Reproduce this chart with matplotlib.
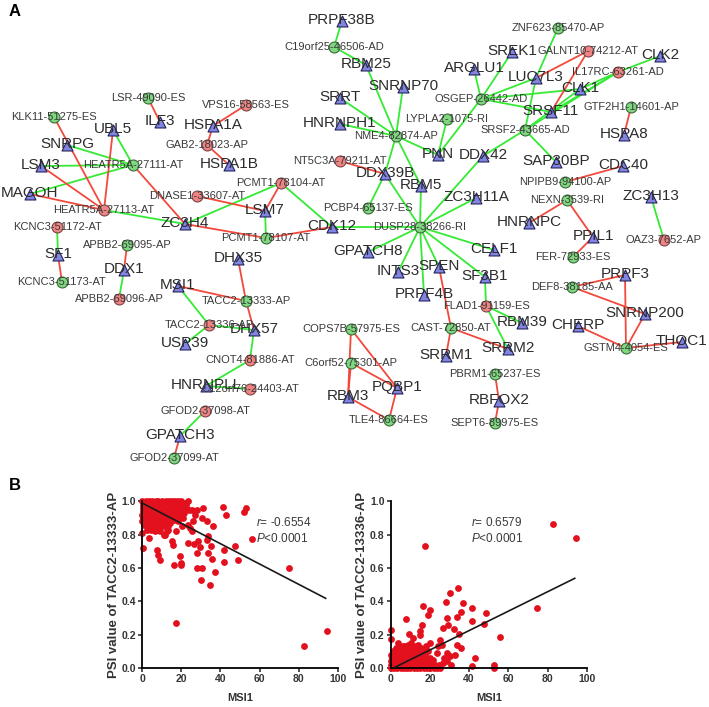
import matplotlib
matplotlib.use('Agg')
import matplotlib.pyplot as plt

plt.rcParams['font.family'] = ['Liberation Sans', 'DejaVu Sans']
plt.rcParams['mathtext.fontset'] = 'custom'
plt.rcParams['mathtext.it'] = 'Liberation Sans:italic'
plt.rcParams['mathtext.rm'] = 'Liberation Sans'

# genes (triangles), positions
genes = {
    'ILF3': (160, 122), 'UBL5': (113, 130), 'SNRPG': (67, 145), 'LSM3': (41, 166),
    'MAGOH': (30, 194), 'HSPA1A': (213, 126), 'HSPA1B': (229, 165), 'ZC3H4': (185, 224),
    'LSM7': (265, 211), 'SF1': (58, 255), 'DDX1': (124, 270), 'DHX35': (238, 259),
    'MSI1': (178, 286), 'DHX57': (254, 330), 'USP39': (185, 344), 'HNRNPLL': (206, 386),
    'GPATCH3': (180, 436), 'PRPF38B': (342, 21), 'RBM25': (366, 65), 'SNRNP70': (403, 87),
    'SRRT': (340, 98), 'HNRNPH1': (340, 124), 'DDX39B': (385, 174), 'PNN': (438, 155),
    'RBM5': (421, 186), 'ARGLU1': (474, 69), 'DDX42': (483, 156), 'ZC3H11A': (476, 198),
    'CDK12': (332, 227), 'SREK1': (512, 52), 'CLK2': (660, 56), 'LUC7L3': (536, 78),
    'CLK1': (580, 89), 'SRSF11': (551, 112), 'HSPA8': (624, 135), 'SAP30BP': (556, 162),
    'CDC40': (623, 166), 'ZC3H13': (651, 197), 'HNRNPC': (529, 223), 'PPIL1': (593, 237),
    'PRPF3': (625, 275), 'SNRNP200': (645, 314), 'CHERP': (578, 326), 'THOC1': (682, 342),
    'CELF1': (494, 250), 'SF3B1': (485, 277), 'RBM39': (522, 323), 'SRRM2': (508, 349),
    'RBFOX2': (499, 401), 'GPATCH8': (368, 252), 'INTS3': (398, 272), 'SPEN': (439, 267),
    'PRPF4B': (424, 295), 'SRRM1': (446, 356), 'PQBP1': (397, 388), 'RBM3': (348, 397),
}

# splicing events (circles), positive / negative correlation
events_green = {
    'LSR-49090-ES': (148, 98), 'KLK11-51275-ES': (54, 117), 'HEATR5A-27111-AT': (133, 165),
    'PCMT1-78107-AT': (266, 238), 'KCNC3-51173-AT': (62, 282), 'APBB2-69095-AP': (127, 245),
    'TACC2-13333-AP': (246, 301), 'GFOD2-37099-AT': (174, 458), 'C19orf25-46506-AD': (334, 47),
    'NME4-82874-AP': (396, 136), 'LYPLA2-1075-RI': (447, 119), 'OSGEP-26442-AD': (481, 99),
    'PCBP4-65137-ES': (368, 208), 'DUSP28-38266-RI': (420, 227), 'ZNF623-85470-AP': (558, 28),
    'GTF2H1-14601-AP': (631, 107), 'SRSF2-43665-AD': (525, 130), 'NPIPB9-94100-AP': (565, 182),
    'NEXN-3539-RI': (567, 200), 'FER-72933-ES': (573, 257), 'DEF8-38185-AA': (572, 287),
    'GSTM4-4054-ES': (626, 348), 'PBRM1-65237-ES': (495, 374), 'SEPT6-89975-ES': (495, 423),
    'COPS7B-57975-ES': (351, 329), 'CAST-72850-AT': (451, 328), 'C6orf52-75301-AP': (351, 363),
    'TLE4-86664-ES': (389, 420),
}
events_red = {
    'VPS16-58563-ES': (246, 105), 'GAB2-18023-AP': (207, 145), 'DNASE1-33607-AT': (197, 196),
    'HEATR5A-27113-AT': (104, 210), 'KCNC3-51172-AT': (57, 227), 'PCMT1-78104-AT': (281, 183),
    'APBB2-69096-AP': (119, 299), 'TACC2-13336-AP': (209, 325), 'CNOT4-81886-AT': (250, 360),
    'C12orf76-24403-AT': (250, 389), 'GFOD2-37098-AT': (205, 411), 'NT5C3A-79211-AT': (340, 161),
    'GALNT10-74212-AT': (588, 51), 'IL17RC-63261-AD': (618, 72), 'OAZ3-7652-AP': (664, 240),
    'FLAD1-91159-ES': (486, 306),
}

edges_green = [
    ('HEATR5A-27111-AT', 'UBL5'), ('HEATR5A-27111-AT', 'SNRPG'), ('HEATR5A-27111-AT', 'LSM3'),
    ('HEATR5A-27111-AT', 'MAGOH'), ('HEATR5A-27113-AT', 'ZC3H4'), ('PCMT1-78104-AT', 'ZC3H4'),
    ('PCMT1-78104-AT', 'CDK12'), ('PCMT1-78107-AT', 'LSM7'), ('KCNC3-51172-AT', 'SF1'),
    ('APBB2-69096-AP', 'DDX1'), ('TACC2-13336-AP', 'MSI1'), ('TACC2-13336-AP', 'USP39'),
    ('TACC2-13336-AP', 'DHX57'), ('CNOT4-81886-AT', 'DHX57'), ('CNOT4-81886-AT', 'HNRNPLL'),
    ('C12orf76-24403-AT', 'HNRNPLL'), ('GFOD2-37098-AT', 'GPATCH3'),
    ('C19orf25-46506-AD', 'PRPF38B'), ('C19orf25-46506-AD', 'RBM25'),
    ('NME4-82874-AP', 'RBM25'), ('NME4-82874-AP', 'SNRNP70'), ('NME4-82874-AP', 'SRRT'),
    ('NME4-82874-AP', 'HNRNPH1'), ('NME4-82874-AP', 'DDX39B'), ('NME4-82874-AP', 'RBM5'),
    ('NME4-82874-AP', 'PNN'), ('PCBP4-65137-ES', 'DDX39B'), ('DUSP28-38266-RI', 'CDK12'),
    ('DUSP28-38266-RI', 'DDX39B'), ('DUSP28-38266-RI', 'RBM5'), ('DUSP28-38266-RI', 'ZC3H11A'),
    ('DUSP28-38266-RI', 'DDX42'), ('DUSP28-38266-RI', 'GPATCH8'), ('DUSP28-38266-RI', 'INTS3'),
    ('DUSP28-38266-RI', 'PRPF4B'), ('DUSP28-38266-RI', 'SPEN'), ('DUSP28-38266-RI', 'SF3B1'),
    ('DUSP28-38266-RI', 'CELF1'), ('LYPLA2-1075-RI', 'PNN'), ('OSGEP-26442-AD', 'ARGLU1'),
    ('OSGEP-26442-AD', 'PNN'), ('OSGEP-26442-AD', 'SREK1'), ('OSGEP-26442-AD', 'LUC7L3'),
    ('OSGEP-26442-AD', 'CLK1'), ('OSGEP-26442-AD', 'SRSF11'), ('SRSF2-43665-AD', 'LUC7L3'),
    ('SRSF2-43665-AD', 'DDX42'), ('SRSF2-43665-AD', 'SAP30BP'), ('SRSF2-43665-AD', 'CLK1'),
    ('SRSF2-43665-AD', 'IL17RC-63261-AD'), ('IL17RC-63261-AD', 'CLK1'), ('IL17RC-63261-AD', 'CLK2'),
    ('IL17RC-63261-AD', 'SRSF11'), ('ZNF623-85470-AP', 'LUC7L3'), ('OAZ3-7652-AP', 'ZC3H13'),
    ('FLAD1-91159-ES', 'SF3B1'), ('FLAD1-91159-ES', 'RBM39'), ('FLAD1-91159-ES', 'SRRM2'),
]
edges_red = [
    ('HEATR5A-27111-AT', 'ZC3H4'), ('HEATR5A-27113-AT', 'KLK11-51275-ES'), ('HEATR5A-27113-AT', 'UBL5'),
    ('HEATR5A-27113-AT', 'LSM3'), ('HEATR5A-27113-AT', 'MAGOH'),
    ('LSR-49090-ES', 'ILF3'), ('VPS16-58563-ES', 'HSPA1A'), ('GAB2-18023-AP', 'HSPA1A'),
    ('GAB2-18023-AP', 'HSPA1B'), ('DNASE1-33607-AT', 'LSM7'), ('PCMT1-78104-AT', 'LSM7'),
    ('PCMT1-78107-AT', 'ZC3H4'), ('PCMT1-78107-AT', 'CDK12'), ('KCNC3-51173-AT', 'SF1'),
    ('APBB2-69095-AP', 'DDX1'), ('TACC2-13333-AP', 'DHX35'), ('TACC2-13333-AP', 'MSI1'),
    ('TACC2-13333-AP', 'DHX57'), ('GFOD2-37099-AT', 'GPATCH3'), ('NT5C3A-79211-AT', 'DDX39B'),
    ('GALNT10-74212-AT', 'LUC7L3'), ('GALNT10-74212-AT', 'SRSF11'), ('GTF2H1-14601-AP', 'HSPA8'),
    ('NPIPB9-94100-AP', 'CDC40'), ('NEXN-3539-RI', 'HNRNPC'), ('NEXN-3539-RI', 'PPIL1'),
    ('FER-72933-ES', 'PPIL1'), ('DEF8-38185-AA', 'PRPF3'), ('DEF8-38185-AA', 'SNRNP200'),
    ('GSTM4-4054-ES', 'PRPF3'), ('GSTM4-4054-ES', 'SNRNP200'), ('GSTM4-4054-ES', 'CHERP'),
    ('GSTM4-4054-ES', 'THOC1'), ('CAST-72850-AT', 'SPEN'), ('CAST-72850-AT', 'SRRM1'),
    ('CAST-72850-AT', 'SRRM2'), ('COPS7B-57975-ES', 'RBM3'), ('COPS7B-57975-ES', 'PQBP1'),
    ('C6orf52-75301-AP', 'RBM3'), ('C6orf52-75301-AP', 'PQBP1'), ('TLE4-86664-ES', 'RBM3'),
    ('TLE4-86664-ES', 'PQBP1'), ('PBRM1-65237-ES', 'RBFOX2'), ('SEPT6-89975-ES', 'RBFOX2'),
]

# scatter data, left panel
msi1_left = [0, 0.3, 3.6, 7.7, 8, 9.4, 17.3, 16.5, 19.4, 19.9, 19.9, 23.6, 26.5, 28.7, 28.2, 28.2,
             30.4, 30, 34.7, 37, 35.9, 33.8, 35.2, 33, 33.8, 29.6, 41.7, 41.7, 47.4, 48.8, 56, 74.8,
             82.8, 94.4, 41.2, 42.9, 52.2, 52.9, 31, 28.2, 25.3, 23.3, 30.6, 33.3, 36, 26.2, 23.6,
             25.3, 24.5, 27, 15.1, 16, 13.4, 11.7, 9.2, 17.3, 20.2,
             0.2, 1.8, 3.5, 5.1, 6.9, 8.4, 10.2, 12, 13.6, 15.3, 17, 18.6, 20.1, 21.8,
             0.5, 2.2, 4.1, 5.8, 7.5, 9.3, 11, 12.7, 14.4, 16.2, 17.8, 19.5, 21.2, 22.7,
             0.3, 2, 3.7, 5.4, 7.2, 8.9, 10.6, 12.4, 14.1, 15.8, 17.5, 19.2, 20.8, 22.3, 23.9,
             0.6, 2.4, 4.3, 6, 7.8, 9.6, 11.3, 13, 14.8, 16.5, 18.2, 19.9, 21.5,
             0.1, 1.9, 3.6, 5.5, 7.1, 8.8, 10.5, 12.3, 14, 15.7, 17.4, 19.1, 20.7,
             0.4, 2.3, 4, 5.9, 7.6, 9.5, 11.2, 13, 14.6, 16.4, 18.3,
             0.2, 2.1, 3.9, 5.6, 7.4, 9.1, 10.8, 12.6, 14.5,
             1.2, 3, 4.7, 6.5, 8.2, 10, 11.8, 13.5, 2.5, 4.8, 6.4, 8.7, 11.1, 12.9]
psi_left = [0.81, 0.72, 0.78, 0.71, 0.68, 0.65, 0.27, 0.62, 0.67, 0.63, 0.615, 0.75, 0.745, 0.76, 0.69, 0.60,
            0.60, 0.525, 0.50, 0.575, 0.655, 0.69, 0.73, 0.77, 0.79, 0.725, 0.635, 0.705, 0.73, 0.645, 0.775, 0.60,
            0.13, 0.22, 0.965, 0.92, 0.935, 0.96, 0.96, 0.945, 0.95, 1.0, 0.90, 0.88, 0.85, 0.88, 0.86,
            0.82, 0.84, 0.92, 0.76, 0.74, 0.83, 0.80, 0.82, 0.82, 0.85,
            1.0, 1.0, 1.0, 1.0, 1.0, 1.0, 1.0, 1.0, 1.0, 1.0, 1.0, 1.0, 1.0, 0.99,
            0.98, 0.98, 0.98, 0.98, 0.98, 0.98, 0.98, 0.98, 0.98, 0.98, 0.98, 0.98, 0.98, 0.98,
            0.96, 0.96, 0.96, 0.96, 0.96, 0.96, 0.96, 0.96, 0.96, 0.96, 0.96, 0.96, 0.96, 0.96, 0.95,
            0.94, 0.94, 0.94, 0.94, 0.94, 0.94, 0.94, 0.94, 0.94, 0.94, 0.94, 0.93, 0.93,
            0.92, 0.92, 0.92, 0.92, 0.92, 0.92, 0.92, 0.92, 0.92, 0.92, 0.91, 0.91, 0.90,
            0.90, 0.90, 0.90, 0.90, 0.90, 0.90, 0.90, 0.89, 0.89, 0.89, 0.88,
            0.88, 0.88, 0.88, 0.88, 0.88, 0.87, 0.87, 0.87, 0.87,
            0.86, 0.86, 0.86, 0.85, 0.85, 0.85, 0.85, 0.85, 0.83, 0.83, 0.82, 0.84, 0.80, 0.82]

# scatter data, right panel
msi1_right = [0.2, 0, 8, 9.4, 11.6, 15, 15, 16, 16.5, 17.5, 20, 19.2, 20, 26.5, 29.4, 28.2, 28.6, 30.3,
              34.5, 36.9, 35.7, 33.7, 32.5, 35, 41.7, 41.5, 48.8, 47.4, 56, 74.7, 83, 94.4, 42.9, 41.3,
              52.9, 52.5, 35.7, 33.7, 32.8, 30, 31, 28.6, 25, 26, 24.3, 23.5,
              0.1, 1.6, 3.3, 5, 6.8, 8.5, 10.1, 11.9, 13.5, 15.2, 17, 18.7, 20.3, 22, 23.8, 25.4,
              0.4, 2.2, 3.9, 5.7, 7.4, 9.1, 10.8, 12.5, 14.2, 16, 17.7, 19.4, 21.1, 22.8, 24.6,
              0.2, 1.9, 3.6, 5.3, 7.1, 8.8, 10.5, 12.2, 13.9, 15.6, 17.3, 19, 20.7, 26.8,
              0.6, 2.4, 4.2, 6, 7.7, 9.4, 11.2, 12.9, 14.6, 16.3, 18, 19.8, 21.6,
              0.3, 2, 3.8, 5.5, 7.3, 9, 10.7, 12.4, 14.1, 15.9, 17.6, 27.4, 28.8,
              1.2, 3, 4.8, 6.6, 8.2, 10, 11.7, 13.4, 15.1, 17, 18.8,
              2.6, 4.5, 6.2, 8.9, 11, 13, 15.4, 17.8, 3.7, 7, 10.3, 14]
psi_right = [0.23, 0.175, 0.295, 0.205, 0.18, 0.2, 0.22, 0.255, 0.37, 0.73, 0.35, 0.315, 0.15, 0.24, 0.26, 0.395, 0.30, 0.45,
             0.48, 0.39, 0.335, 0.305, 0.235, 0.205, 0.36, 0.28, 0.33, 0.265, 0.185, 0.36, 0.865, 0.78, 0.06, 0.01,
             0.02, 0, 0.12, 0.14, 0.08, 0.07, 0.02, 0.04, 0.17, 0.14, 0.13, 0.09,
             0, 0, 0, 0, 0, 0, 0, 0, 0, 0, 0, 0, 0, 0, 0, 0,
             0.02, 0.02, 0.02, 0.02, 0.02, 0.02, 0.02, 0.02, 0.02, 0.02, 0.02, 0.02, 0.02, 0.02, 0.02,
             0.04, 0.04, 0.04, 0.04, 0.04, 0.04, 0.04, 0.04, 0.04, 0.04, 0.04, 0.04, 0.04, 0.03,
             0.06, 0.06, 0.06, 0.06, 0.06, 0.06, 0.06, 0.06, 0.06, 0.06, 0.06, 0.06, 0.05,
             0.08, 0.08, 0.08, 0.08, 0.08, 0.08, 0.08, 0.08, 0.08, 0.08, 0.08, 0.06, 0.09,
             0.10, 0.10, 0.10, 0.10, 0.10, 0.10, 0.10, 0.10, 0.10, 0.10, 0.10,
             0.12, 0.12, 0.13, 0.14, 0.12, 0.13, 0.12, 0.13, 0.15, 0.13, 0.15, 0.14]

fit_left_x, fit_left_y = [0, 93.7], [0.99, 0.418]
fit_right_x, fit_right_y = [1.4, 93.9], [0, 0.538]
ticks_x = [0, 20, 40, 60, 80, 100]
ticks_y = [0.0, 0.2, 0.4, 0.6, 0.8, 1.0]

GREEN_LINE = '#35ea35'
RED_LINE = '#f2493c'
TEXT = '#3a3a3a'

fig = plt.figure(figsize=(7.09, 7.07), dpi=100)
net = fig.add_axes([0, 0, 1, 1])
net.set_xlim(0, 709)
net.set_ylim(707, 0)
net.axis('off')

# network
pos = {**genes, **events_green, **events_red}
for a, b in edges_green:
    net.plot([pos[a][0], pos[b][0]], [pos[a][1], pos[b][1]], color=GREEN_LINE, lw=1.3, zorder=1)
for a, b in edges_red:
    net.plot([pos[a][0], pos[b][0]], [pos[a][1], pos[b][1]], color=RED_LINE, lw=1.3, zorder=1)

net.scatter([p[0] for p in genes.values()], [p[1] for p in genes.values()], marker='^', s=62,
            color='#8184e0', edgecolor='#23235a', linewidth=0.8, zorder=2)
net.scatter([p[0] for p in events_green.values()], [p[1] for p in events_green.values()], s=62,
            color='#7fd87f', edgecolor='#3a6a3a', linewidth=0.8, zorder=2)
net.scatter([p[0] for p in events_red.values()], [p[1] for p in events_red.values()], s=62,
            color='#ee8484', edgecolor='#7d4545', linewidth=0.8, zorder=2)

for name, p in genes.items():
    net.text(p[0], p[1] - 1, name, fontsize=11, color='#2c2c2c', ha='center', va='center', zorder=3)
for name, p in {**events_green, **events_red}.items():
    net.text(p[0], p[1], name, fontsize=8, color=TEXT, ha='center', va='center', zorder=3)

net.text(9, 11, 'A', fontsize=12, fontweight='bold', ha='left', va='center')
net.text(9, 485, 'B', fontsize=12, fontweight='bold', ha='left', va='center')


def scatter_panel(left_px, x, y, fit_x, fit_y, ylabel, rtext, text_x):
    ax = fig.add_axes([left_px / 709, (707 - 668) / 707, 196 / 709, 166.7 / 707])
    ax.scatter(x, y, s=24, color='#e3101e', linewidth=0, clip_on=False, zorder=2)
    ax.plot(fit_x, fit_y, color='#1a1a1a', lw=1.2, zorder=3)
    ax.set_xlim(0, 100)
    ax.set_ylim(0, 1)
    ax.set_xticks(ticks_x)
    ax.set_yticks(ticks_y)
    ax.set_yticklabels(['0.0', '0.2', '0.4', '0.6', '0.8', '1.0'])
    ax.tick_params(width=1.2, length=3, labelsize=7.5, pad=1.5, colors='#333333')
    for lab in ax.get_xticklabels() + ax.get_yticklabels():
        lab.set_fontweight('bold')
    ax.spines['top'].set_visible(False)
    ax.spines['right'].set_visible(False)
    ax.spines['left'].set_linewidth(1.3)
    ax.spines['bottom'].set_linewidth(1.3)
    ax.patch.set_alpha(0)
    ax.set_xlabel('MSI1', fontsize=8, fontweight='bold', color='#333333', labelpad=6)
    ax.set_ylabel(ylabel, fontsize=9.5, fontweight='bold', color='#333333', labelpad=1)
    ax.text(text_x, 0.87, rtext, fontsize=8.5, color=TEXT, va='center')
    ax.text(text_x, 0.775, r'$\mathit{P}$<0.0001', fontsize=8.5, color=TEXT, va='center')


scatter_panel(142, msi1_left, psi_left, fit_left_x, fit_left_y,
              'PSI value of TACC2-13333-AP', r'$\mathit{r}$= -0.6554', 58)
scatter_panel(390.7, msi1_right, psi_right, fit_right_x, fit_right_y,
              'PSI value of TACC2-13336-AP', r'$\mathit{r}$= 0.6579', 41)

fig.savefig('out.png', dpi=100)
